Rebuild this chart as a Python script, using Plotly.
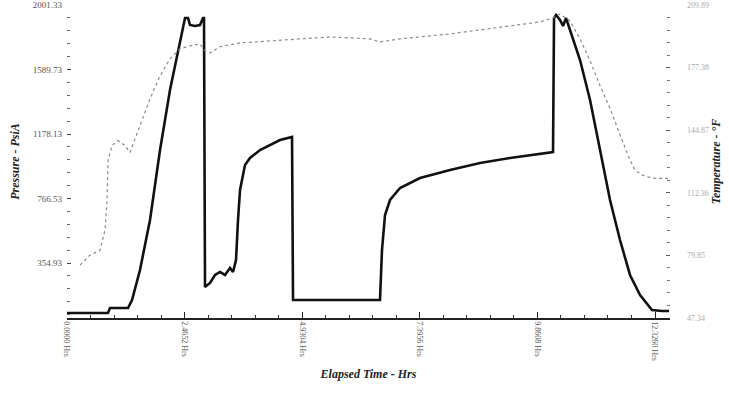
import plotly.graph_objects as go

# Pressure (PsiA) vs elapsed hours
p_hrs = [0.000, 0.859, 0.901, 1.279, 1.363, 1.530, 1.740, 1.950, 2.159, 2.369, 2.474, 2.537,
         2.578, 2.683, 2.788, 2.851, 2.872, 2.893, 2.998, 3.103, 3.207, 3.312, 3.417, 3.480,
         3.543, 3.585, 3.627, 3.731, 3.836, 4.046, 4.255, 4.465, 4.717, 4.738, 6.561, 6.603,
         6.666, 6.771, 6.981, 7.400, 8.029, 8.658, 9.287, 9.916, 10.188, 10.209, 10.251,
         10.335, 10.398, 10.461, 10.544, 10.754, 10.964, 11.173, 11.383, 11.592, 11.802,
         12.012, 12.180, 12.263, 12.473, 12.620]
pressure = [36.0, 36.0, 67.9, 67.9, 118.9, 310.4, 629.4, 1076.1, 1458.9, 1778.0, 1918.4, 1918.4,
            1873.7, 1867.3, 1873.7, 1918.0, 1918.0, 201.9, 227.4, 278.5, 297.6, 278.5, 323.1, 297.6,
            374.2, 629.4, 820.8, 980.4, 1025.0, 1076.1, 1107.9, 1139.9, 1159.0, 118.9, 118.9, 438.0,
            661.3, 757.0, 833.6, 897.4, 948.5, 993.1, 1025.0, 1050.6, 1063.3, 1918.0, 1937.5,
            1905.6, 1867.3, 1918.0, 1841.8, 1650.4, 1395.1, 1076.1, 757.0, 501.8, 278.5,
            150.8, 87.0, 55.0, 48.7, 48.7]

# Temperature (F) vs elapsed hours
t_hrs = [0.273, 0.482, 0.692, 0.797, 0.839, 0.860, 0.943, 1.069, 1.216, 1.321, 1.530, 1.740,
         1.950, 2.159, 2.369, 2.578, 2.788, 2.893, 2.998, 3.207, 3.627, 4.255, 4.884, 5.513,
         5.932, 6.351, 6.561, 6.981, 8.029, 9.077, 9.916, 10.188, 10.335, 10.544, 10.754,
         10.964, 11.173, 11.383, 11.592, 11.760, 11.907, 12.117, 12.326, 12.599]
temperature = [74.8, 80.0, 82.5, 92.9, 108.4, 129.1, 136.9, 139.5, 136.9, 133.3, 147.3, 161.2,
               173.1, 181.9, 187.1, 188.7, 189.7, 186.1, 185.0, 188.2, 190.2, 191.3, 192.3, 193.3,
               192.8, 192.3, 190.7, 192.3, 194.9, 198.5, 201.1, 203.2, 205.2, 201.6, 192.3,
               180.9, 168.0, 156.1, 142.1, 131.7, 124.0, 120.9, 119.9, 119.9]

x_tickvals = [0.0, 2.4652, 4.9304, 7.3956, 9.8608, 12.3260]
x_ticktext = ["0.0000 Hrs", "2.4652 Hrs", "4.9304 Hrs", "7.3956 Hrs", "9.8608 Hrs", "12.3260 Hrs"]
p_tickvals = [354.93, 766.53, 1178.13, 1589.73, 2001.33]
p_ticktext = ["354.93", "766.53", "1178.13", "1589.73", "2001.33"]
t_tickvals = [47.34, 79.85, 112.36, 144.87, 177.38, 209.89]
t_ticktext = ["47.34", "79.85", "112.36", "144.87", "177.38", "209.89"]

serif = "Liberation Serif, DejaVu Serif, serif"

fig = go.Figure()
fig.add_trace(go.Scatter(x=t_hrs, y=temperature, yaxis="y2", mode="lines",
                         line=dict(color="#8a8a8a", width=1.2, dash="dot"),
                         showlegend=False, hoverinfo="skip"))
fig.add_trace(go.Scatter(x=p_hrs, y=pressure, mode="lines",
                         line=dict(color="#111111", width=2.6),
                         showlegend=False, hoverinfo="skip"))

fig.update_layout(
    width=729, height=416,
    margin=dict(l=67, r=59, t=5, b=98),
    paper_bgcolor="white", plot_bgcolor="white",
    font=dict(family=serif, color="#444", size=9),
    xaxis=dict(range=[0, 12.64], tickvals=x_tickvals, ticktext=x_ticktext, tickangle=90,
               automargin=False,
               showgrid=False, zeroline=False, showline=True, linecolor="#222", linewidth=1.5,
               ticks="inside", ticklen=6, tickcolor="#222", tickwidth=1.2,
               minor=dict(tick0=0, dtick=2.4652 / 5, ticks="inside", ticklen=3,
                          tickcolor="#333", showgrid=False),
               tickfont=dict(family=serif, size=8, color="#555"),
               title=dict(text="Elapsed Time - Hrs", standoff=10,
                          font=dict(family=serif, size=12, color="#222", style="italic", weight="bold"))),
    yaxis=dict(range=[4, 2001.33], tickvals=p_tickvals, ticktext=p_ticktext,
               automargin=False, ticklabelstandoff=4,
               showgrid=False, zeroline=False, showline=False,
               ticks="inside", ticklen=4, tickcolor="#444",
               minor=dict(tick0=354.93, dtick=82.32, ticks="inside", ticklen=3,
                          tickcolor="#666", showgrid=False),
               tickfont=dict(family=serif, size=9, color="#555"),
               title=dict(text="Pressure - PsiA", standoff=10,
                          font=dict(family=serif, size=12, color="#222", style="italic", weight="bold"))),
    yaxis2=dict(range=[47.34, 209.89], overlaying="y", side="right",
                automargin=False, ticklabelstandoff=16,
                tickvals=t_tickvals, ticktext=t_ticktext,
                showgrid=False, zeroline=False, showline=False,
                ticks="inside", ticklen=4, tickcolor="#555",
                minor=dict(tick0=47.34, dtick=32.51 / 5, ticks="inside", ticklen=3,
                           tickcolor="#777", showgrid=False),
                tickfont=dict(family=serif, size=8, color="#aaa"),
                title=dict(text="Temperature - °F", standoff=2,
                           font=dict(family=serif, size=12, color="#222", style="italic", weight="bold"))),
)

fig.write_html("out.html", config={"displayModeBar": False},
               post_script="document.body.style.margin='0';document.body.style.overflow='hidden';")
